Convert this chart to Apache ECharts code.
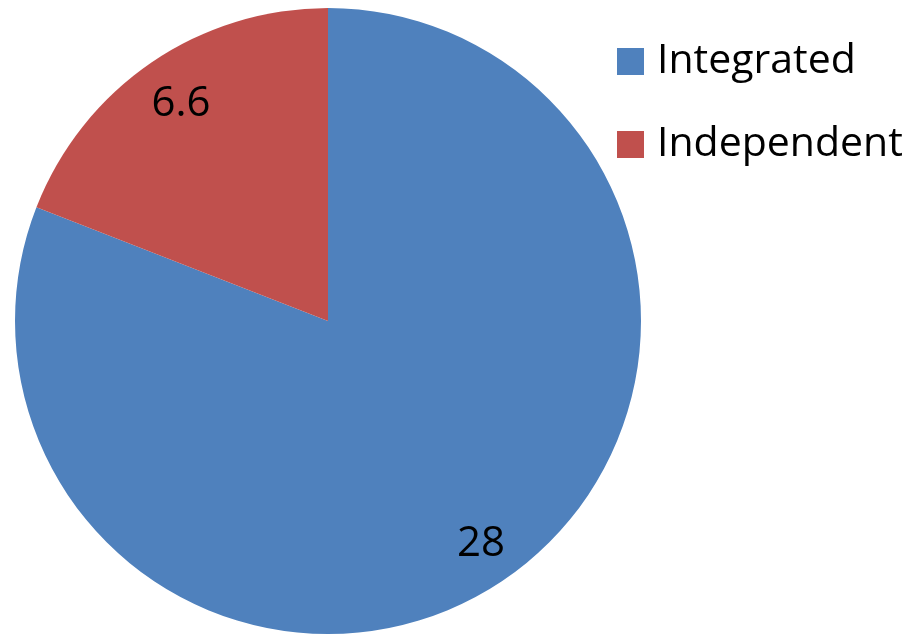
<!DOCTYPE html>
<html>
<head>
<meta charset="utf-8">
<script src="https://cdn.jsdelivr.net/npm/echarts@6/dist/echarts.min.js"></script>
<style>html,body{margin:0;padding:0;background:#fff}#c{width:921px;height:634px}</style>
</head>
<body>
<div id="c"></div>
<script>
const categories = ['Integrated', 'Independent'];
const values = [28, 6.6];
const colors = ['#4F81BD', '#C0504D'];

const data = categories.map((n, i) => ({ name: n, value: values[i], itemStyle: { color: colors[i] } }));
const chart = echarts.init(document.getElementById('c'));
const R = 313;
chart.setOption({
  animation: false,
  legend: {
    orient: 'vertical',
    left: 617,
    top: 41,
    padding: 0,
    itemWidth: 27,
    itemHeight: 27,
    itemGap: 42,
    icon: 'rect',
    data: categories,
    textStyle: { fontFamily: 'Open Sans', fontSize: 41, color: '#000', lineHeight: 40, padding: [0, 0, 0, 8] }
  },
  series: [
    {
      type: 'pie',
      center: [328, 321],
      radius: [0, R],
      startAngle: 90,
      clockwise: true,
      silent: true,
      label: { show: false },
      labelLine: { show: false },
      itemStyle: { borderWidth: 0 },
      data: data
    },
    {
      type: 'pie',
      center: [331, 324],
      radius: [R * 0.68, R],
      startAngle: 90,
      clockwise: true,
      silent: true,
      legendHoverLink: false,
      itemStyle: { color: 'rgba(0,0,0,0)', borderWidth: 0 },
      label: { show: true, position: 'inside', fontFamily: 'Open Sans', fontSize: 42, color: '#000', formatter: p => p.value },
      labelLine: { show: false },
      data: categories.map((n, i) => ({ name: n + ' ', value: values[i] }))
    }
  ]
});
</script>
</body>
</html>
